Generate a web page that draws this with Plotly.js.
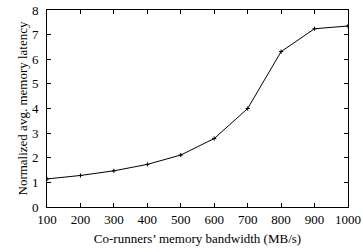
<!DOCTYPE html>
<html><head><meta charset="utf-8">
<script src="https://cdn.plot.ly/plotly-3.0.1.min.js"></script>
<style>html,body{margin:0;padding:0;background:#fff}#c{width:363px;height:252px}</style>
</head><body><div id="c"></div>
<script>
var bandwidth = [100, 200, 300, 400, 500, 600, 700, 800, 900, 1000];
var latency = [1.14, 1.28, 1.47, 1.73, 2.11, 2.78, 4.0, 6.31, 7.24, 7.35];
var xTicks = [100, 200, 300, 400, 500, 600, 700, 800, 900, 1000];
var yTicks = [0, 1, 2, 3, 4, 5, 6, 7, 8];

var fam = 'Liberation Serif, Times New Roman, serif';
var font = {family: fam, size: 13, color: '#000'};
Plotly.newPlot('c', [{
  x: bandwidth, y: latency, type: 'scatter', mode: 'lines+markers',
  line: {color: '#000', width: 1},
  marker: {symbol: 'cross-thin-open', size: 3, color: '#000', line: {color: '#000', width: 1}}
}], {
  width: 363, height: 252,
  margin: {l: 46.5, r: 15, t: 10, b: 44.5},
  paper_bgcolor: '#fff', plot_bgcolor: '#fff',
  font: font, showlegend: false,
  xaxis: {range: [100, 1000], tickvals: xTicks, ticktext: xTicks.map(String),
    ticks: 'inside', ticklen: 4, tickcolor: '#000', mirror: 'ticks',
    showline: true, linecolor: '#000', linewidth: 1, showgrid: false, zeroline: false,
    ticklabelstandoff: 0,
    tickfont: font, title: {text: 'Co-runners\u2019 memory bandwidth (MB/s)', font: {family: fam, size: 13, color: '#000'}, standoff: 8}},
  yaxis: {range: [0, 8], tickvals: yTicks, ticktext: yTicks.map(String),
    ticks: 'inside', ticklen: 4, tickcolor: '#000', mirror: 'ticks',
    showline: true, linecolor: '#000', linewidth: 1, showgrid: false, zeroline: false,
    ticklabelstandoff: 5,
    tickfont: font, title: {text: 'Normalized avg. memory latency', font: {family: fam, size: 13, color: '#000'}, standoff: 1}}
}, {staticPlot: true, displayModeBar: false});
</script></body></html>
